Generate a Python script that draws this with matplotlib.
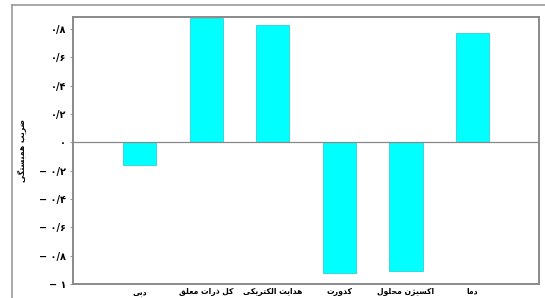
import matplotlib
matplotlib.use("Agg")
import matplotlib.pyplot as plt
from matplotlib.lines import Line2D

labels = ["دبی", "کل ذرات معلق", "هدایت الکتریکی", "کدورت", "اکسیژن محلول", "دما"]
values = [-0.16, 0.88, 0.83, -0.92, -0.91, 0.77]
yticks = [-1, -0.8, -0.6, -0.4, -0.2, 0, 0.2, 0.4, 0.6, 0.8]
ylabel = "ضریب همبستگی"

# minimal arabic/persian shaping: (isolated, final, initial, medial)
FORMS = {
    "ا": ("\uFE8D", "\uFE8E", None, None),
    "ب": ("\uFE8F", "\uFE90", "\uFE91", "\uFE92"),
    "ت": ("\uFE95", "\uFE96", "\uFE97", "\uFE98"),
    "ح": ("\uFEA1", "\uFEA2", "\uFEA3", "\uFEA4"),
    "د": ("\uFEA9", "\uFEAA", None, None),
    "ذ": ("\uFEAB", "\uFEAC", None, None),
    "ر": ("\uFEAD", "\uFEAE", None, None),
    "ژ": ("\uFB8A", "\uFB8B", None, None),
    "س": ("\uFEB1", "\uFEB2", "\uFEB3", "\uFEB4"),
    "ض": ("\uFEBD", "\uFEBE", "\uFEBF", "\uFEC0"),
    "ع": ("\uFEC9", "\uFECA", "\uFECB", "\uFECC"),
    "ق": ("\uFED5", "\uFED6", "\uFED7", "\uFED8"),
    "ک": ("\uFB8E", "\uFB8F", "\uFB90", "\uFB91"),
    "گ": ("\uFB92", "\uFB93", "\uFB94", "\uFB95"),
    "ل": ("\uFEDD", "\uFEDE", "\uFEDF", "\uFEE0"),
    "م": ("\uFEE1", "\uFEE2", "\uFEE3", "\uFEE4"),
    "ن": ("\uFEE5", "\uFEE6", "\uFEE7", "\uFEE8"),
    "ه": ("\uFEE9", "\uFEEA", "\uFEEB", "\uFEEC"),
    "و": ("\uFEED", "\uFEEE", None, None),
    "ی": ("\uFBFC", "\uFBFD", "\uFBFE", "\uFBFF"),
}


def dual(c):
    return c in FORMS and FORMS[c][2] is not None


def shape(text):
    out = []
    for i, c in enumerate(text):
        if c not in FORMS:
            out.append(c)
            continue
        prev = text[i - 1] if i > 0 else ""
        nxt = text[i + 1] if i + 1 < len(text) else ""
        join_prev = dual(prev)
        join_next = dual(c) and nxt in FORMS
        f = FORMS[c]
        if join_prev and join_next:
            out.append(f[3])
        elif join_prev:
            out.append(f[1])
        elif join_next:
            out.append(f[2])
        else:
            out.append(f[0])
    return "".join(reversed(out))


def fa_num(v):
    digits = "۰۱۲۳۴۵۶۷۸۹"
    s = ("%g" % v).replace("0.", "0/").replace("-", "\u2212 ")
    return "".join(digits[int(ch)] if ch.isdigit() else ch for ch in s)


plt.rcParams["font.family"] = ["DejaVu Sans"]

fig = plt.figure(figsize=(5.45, 2.98), dpi=100)
ax = fig.add_axes([0.134, 0.047, 0.855, 0.896])

x = range(len(values))
ax.bar(x, values, width=0.5, color="#00ffff", edgecolor="#30d0d0", linewidth=0.6)
ax.axhline(0, color="#888888", linewidth=0.9)

ax.set_xlim(-1, 6)
ax.set_ylim(-1.0, 0.885)
ax.set_yticks(yticks)
ax.set_yticklabels([fa_num(v) for v in yticks], fontsize=7, fontweight="bold")
ax.set_xticks(list(x))
ax.set_xticklabels([shape(l) for l in labels], fontsize=5.5, fontweight="bold")
ax.tick_params(axis="x", length=0, pad=2)
ax.tick_params(axis="y", length=2, color="#999999", pad=3)
ax.set_ylabel(shape(ylabel), fontsize=5.5, fontweight="bold", labelpad=9)

for s in ax.spines.values():
    s.set_color("#8a8a8a")
    s.set_linewidth(1.4)

# outer frame of the figure
fig.add_artist(Line2D([12 / 545, 12 / 545], [0, 1 - 5 / 298], transform=fig.transFigure,
                      color="#999999", linewidth=1.2))
fig.add_artist(Line2D([12 / 545, 1], [1 - 5 / 298, 1 - 5 / 298], transform=fig.transFigure,
                      color="#999999", linewidth=1.2))

fig.savefig("out.png", dpi=100)
